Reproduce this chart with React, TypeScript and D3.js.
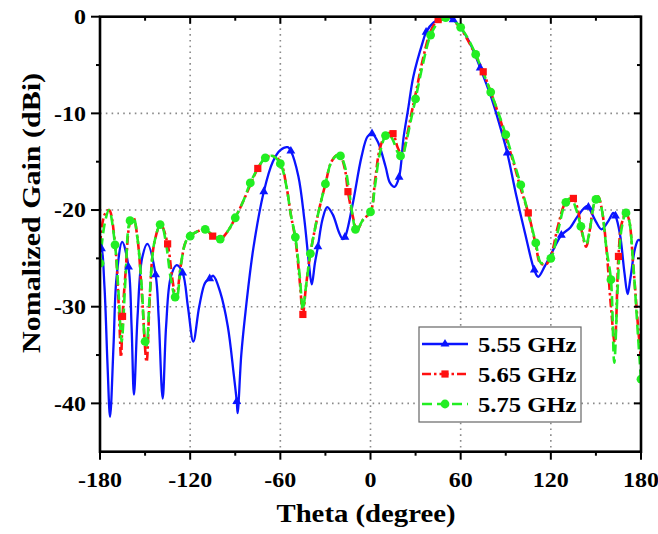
import React from "react";
import * as d3 from "d3";

// ---------- data ----------
const thetaTicks = [-180, -120, -60, 0, 60, 120, 180];
const gainTicks = [0, -10, -20, -30, -40];
const seriesNames = ["5.55 GHz", "5.65 GHz", "5.75 GHz"];

// 5.55 GHz (line points)
const theta555 = [-180, -177, -175, -173.3, -171, -169, -165.2, -159, -157.4, -155, -152, -148.5, -141, -138.3, -136, -133, -129, -121.5, -117.9, -114, -110, -104.6, -100, -95, -91, -88.4, -86, -83.5, -78, -65, -60, -55, -48, -44, -41, -39.1, -37, -32, -28.8, -25, -21, -18.5, -12, -6, -2, 5, 10, 13, 16, 22, 25, 28.5, 35, 42, 50.5, 62, 67, 80, 85, 97, 103, 111.6, 116, 121, 133, 138, 143.8, 150, 153.8, 158, 161.6, 166, 169, 171.1, 173, 176, 178.2, 180];
const gain555 = [-24.4, -28, -36, -41.4, -34, -27, -23.3, -32, -39.1, -31, -25, -23.5, -31, -39.5, -32, -27, -25.7, -30, -33.6, -30, -27.5, -26.8, -28.5, -32, -37, -41.0, -35, -31, -24, -15, -13.8, -13.5, -16.5, -21, -25.5, -27.7, -25.5, -21, -19.7, -20.5, -22.3, -23.0, -19.5, -14.5, -12.4, -13, -15.5, -17.2, -17.6, -12.5, -9.6, -6.2, -2.5, -0.6, 0, -1.6, -3.0, -8.2, -10.7, -18.5, -22.5, -26.9, -25.8, -24.3, -21.8, -20.6, -19.6, -21.2, -22.0, -21.2, -20.3, -22.5, -26.5, -28.7, -27, -24, -23.1, -23.2];
const markerTheta555 = [-179, -161, -143, -125, -107, -89, -71, -53, -35, -17, 1, 19, 37, 55, 73, 91, 109, 127, 145, 163];
const markerGain555 = [-24.0, -25.9, -26.7, -26.5, -27.1, -39.8, -18.1, -13.9, -23.8, -22.8, -12.1, -16.6, -1.6, -0.3, -5.3, -14.1, -26.2, -22.6, -19.7, -20.6];

// 5.65 GHz
const theta565 = [-180, -177, -174, -170, -167.5, -166, -163, -160, -157.8, -155, -152, -149, -147, -144, -139.6, -132, -129.4, -126, -123, -120, -115, -110, -100, -95, -90, -85, -80, -70, -65, -60, -56, -53, -50, -47, -43, -40, -35, -30, -26, -22, -20, -17, -12, -9, -5, 0, 3, 6, 10, 13, 18, 21, 24, 27, 30, 35, 40, 50, 55, 60, 65, 70, 80, 85, 90, 95, 100, 110, 113, 117, 120, 125, 130, 138, 141, 143.5, 146, 148.5, 151.5, 154, 157, 160, 162.5, 167, 170, 172, 175, 178, 180];
const gain565 = [-23.6, -20.5, -20.0, -23.5, -30, -35.2, -26.5, -21.3, -20.8, -23, -29, -35.7, -29.5, -23.5, -21.5, -27, -29.1, -25.5, -23.3, -22.7, -22.2, -22.0, -23.0, -22.2, -20.8, -19.2, -17.4, -14.6, -14.4, -15.0, -17.5, -20.5, -23, -27.5, -28, -24.5, -20.5, -17.3, -15, -14.3, -14.4, -15.8, -20.5, -22.1, -21, -20.2, -17, -13.8, -12.2, -12.0, -13.5, -14.3, -12.5, -10.2, -8.0, -4.3, -1.5, 0, -0.4, -1.2, -2.5, -4.0, -7.8, -10.0, -12.5, -15.0, -17.8, -23.6, -25.5, -25.6, -24.8, -21.5, -19.2, -20, -22.5, -23.8, -22, -19.5, -18.6, -20, -24, -30, -33.7, -21.5, -20.3, -21, -26, -32, -35.5];
const markerTheta565 = [-165, -135, -105, -75, -45, -15, 15, 45, 75, 105, 135, 165];
const markerGain565 = [-31.0, -23.5, -22.7, -15.7, -30.8, -18.1, -12.1, -0.3, -5.7, -20.3, -18.8, -24.8];

// 5.75 GHz
const theta575 = [-177, -174, -167.5, -165.6, -163, -157.8, -155, -152, -149, -147, -144, -139, -136, -133, -129, -126, -123, -115, -105, -95, -85, -75, -65, -56, -53, -47, -45, -43, -35, -26, -22, -17, -14, -12, -9, -5, 3, 6, 12, 15, 18, 21, 24, 27, 35, 45, 51, 55, 65, 75, 85, 95, 105, 113.5, 117, 125, 133.5, 137, 143.4, 146, 148.5, 151.5, 154, 157, 162.2, 164.5, 167, 172, 175, 178];
const gain575 = [-21.5, -20.0, -29, -33.6, -27, -20.8, -23, -28.5, -34.0, -29, -23.5, -21.5, -23.5, -27, -29.1, -25.5, -23.3, -22.2, -22.6, -22.2, -19.2, -15.7, -14.4, -17.5, -20.5, -27, -30.3, -28, -20.5, -15, -14.3, -15.5, -18.3, -20.5, -22.1, -21, -17.5, -14.3, -12.1, -12.8, -14.0, -14.5, -12.8, -10.6, -4.8, -0.6, 0, -0.3, -2.3, -5.8, -9.9, -14.8, -20.4, -25.5, -25.3, -22, -18.8, -20, -23.6, -22, -19.5, -18.6, -20, -24, -35.8, -28, -22, -21, -26, -33];
const markerTheta575 = [-180, -170, -160, -150, -140, -130, -120, -110, -100, -90, -80, -70, -60, -50, -40, -30, -20, -10, 0, 10, 20, 30, 40, 50, 60, 70, 80, 90, 100, 110, 120, 130, 140, 150, 160, 170, 180];
const markerGain575 = [-25.5, -23.6, -21.1, -33.6, -21.5, -29.0, -22.7, -22.0, -23.0, -20.8, -17.2, -14.6, -15.2, -22.8, -24.5, -17.3, -14.4, -22.0, -20.2, -12.3, -14.4, -8.5, -1.9, -0.1, -1.1, -3.9, -7.8, -12.2, -17.4, -23.4, -25.0, -19.2, -21.7, -18.9, -27.2, -20.3, -37.5];

// ---------- layout ----------
const W = 658, H = 534;
const L = 100, R = 641, T = 16.7, B = 451.7;
const FONT = "'Liberation Serif', 'Times New Roman', serif";

const x = d3.scaleLinear().domain([-180, 180]).range([L, R]);
const y = d3.scaleLinear().domain([-45, 0]).range([B, T]);

type P = [number, number];
const zip = (a: number[], b: number[]): P[] => a.map((v, i) => [v, b[i]] as P);
const merge = (a: P[], b: P[]) => [...a, ...b].sort((p, q) => p[0] - q[0]);

const line = d3
  .line<P>()
  .x((d) => x(d[0]))
  .y((d) => y(d[1]))
  .curve(d3.curveCatmullRom.alpha(0.5));

const series = [
  { name: seriesNames[0], color: "#0a14ff", dash: "none", width: 2.3, marker: "tri", pts: merge(zip(theta555, gain555), zip(markerTheta555, markerGain555)), marks: zip(markerTheta555, markerGain555) },
  { name: seriesNames[1], color: "#ff1010", dash: "9,3,2.5,3", width: 2.6, marker: "sq", pts: merge(zip(theta565, gain565), zip(markerTheta565, markerGain565)), marks: zip(markerTheta565, markerGain565) },
  { name: seriesNames[2], color: "#22ee22", dash: "10,5", width: 2.6, marker: "circ", pts: merge(zip(theta575, gain575), zip(markerTheta575, markerGain575)), marks: zip(markerTheta575, markerGain575) },
];

const triPath = d3.symbol(d3.symbolTriangle, 34)() as string;

function Marker({ kind, cx, cy, color }: { kind: string; cx: number; cy: number; color: string }) {
  if (kind === "tri") return <path d={triPath} transform={`translate(${cx},${cy})`} fill={color} />;
  if (kind === "sq") return <rect x={cx - 3.6} y={cy - 3.6} width={7.2} height={7.2} fill={color} />;
  return <circle cx={cx} cy={cy} r={4.4} fill={color} />;
}

function SText({ x: tx, y: ty, sx = 1.09, rot = 0, size, anchor = "middle", children }: any) {
  return (
    <text
      transform={`translate(${tx},${ty}) rotate(${rot}) scale(${sx},1)`}
      textAnchor={anchor}
      fontFamily={FONT}
      fontWeight="bold"
      fontSize={size}
      fill="#000"
    >
      {children}
    </text>
  );
}

export default function App() {
  const xMinor = d3.range(-150, 180, 60);
  const yMinor = d3.range(-5, -45, -10);
  const gridX = thetaTicks.filter((t) => t > -180 && t < 180);
  const gridY = gainTicks.filter((g) => g < 0);
  const legX = 419, legY = 327, legW = 162, legH = 95;
  const rows = [344, 374, 404];

  return (
    <svg width={W} height={H} style={{ position: "absolute", left: 0, top: 0, background: "#fff" }}>
      <defs>
        <clipPath id="plotclip">
          <rect x={L} y={T} width={R - L} height={B - T} />
        </clipPath>
      </defs>
      <rect x={0} y={0} width={W} height={H} fill="#fff" />

      {/* grid */}
      {gridX.map((t) => (
        <line key={"gx" + t} x1={x(t)} x2={x(t)} y1={T} y2={B} stroke="#8a8a8a" strokeWidth={1.6} strokeDasharray="1.6,4.2" />
      ))}
      {gridY.map((g) => (
        <line key={"gy" + g} x1={L} x2={R} y1={y(g)} y2={y(g)} stroke="#8a8a8a" strokeWidth={1.6} strokeDasharray="1.6,4.2" />
      ))}

      {/* curves */}
      <g clipPath="url(#plotclip)">
        {series.map((s) => (
          <path key={s.name} d={line(s.pts) as string} fill="none" stroke={s.color} strokeWidth={s.width} strokeDasharray={s.dash} strokeLinejoin="round" />
        ))}
        {series.map((s) =>
          s.marks.map((m, i) => <Marker key={s.name + i} kind={s.marker} cx={x(m[0])} cy={y(m[1])} color={s.color} />)
        )}
      </g>

      {/* frame */}
      <rect x={L} y={T} width={R - L} height={B - T} fill="none" stroke="#000" strokeWidth={2.6} />

      {/* ticks: bottom/left outward, top/right inward */}
      {thetaTicks.map((t) => (
        <g key={"xt" + t}>
          <line x1={x(t)} x2={x(t)} y1={B} y2={B + 8} stroke="#000" strokeWidth={2} />
          <line x1={x(t)} x2={x(t)} y1={T} y2={T + 7} stroke="#000" strokeWidth={2} />
        </g>
      ))}
      {xMinor.map((t) => (
        <g key={"xm" + t}>
          <line x1={x(t)} x2={x(t)} y1={B} y2={B + 4} stroke="#000" strokeWidth={2} />
          <line x1={x(t)} x2={x(t)} y1={T} y2={T + 4} stroke="#000" strokeWidth={2} />
        </g>
      ))}
      {gainTicks.map((g) => (
        <g key={"yt" + g}>
          <line x1={L - 9} x2={L} y1={y(g)} y2={y(g)} stroke="#000" strokeWidth={2} />
          <line x1={R - 7} x2={R} y1={y(g)} y2={y(g)} stroke="#000" strokeWidth={2} />
        </g>
      ))}
      {yMinor.map((g) => (
        <g key={"ym" + g}>
          <line x1={L - 4} x2={L} y1={y(g)} y2={y(g)} stroke="#000" strokeWidth={2} />
          <line x1={R - 4} x2={R} y1={y(g)} y2={y(g)} stroke="#000" strokeWidth={2} />
        </g>
      ))}

      {/* tick labels */}
      {thetaTicks.map((t) => (
        <SText key={"xl" + t} x={x(t)} y={486.5} size={22}>
          {String(t)}
        </SText>
      ))}
      {gainTicks.map((g) => (
        <SText key={"yl" + g} x={86} y={y(g) + 7.3} size={22} anchor="end">
          {String(g)}
        </SText>
      ))}

      {/* axis titles */}
      <SText x={366} y={522} size={25} sx={1.15}>
        Theta (degree)
      </SText>
      <SText x={40} y={213} size={25} sx={1.2} rot={-90}>
        Nomalized Gain (dBi)
      </SText>

      {/* legend */}
      <rect x={legX} y={legY} width={legW} height={legH} fill="#fff" stroke="#666" strokeWidth={1.2} />
      {series.map((s, i) => (
        <g key={"lg" + i}>
          <line x1={422} x2={468} y1={rows[i]} y2={rows[i]} stroke={s.color} strokeWidth={s.width} strokeDasharray={s.dash} />
          <Marker kind={s.marker} cx={445} cy={rows[i]} color={s.color} />
          <SText x={478} y={rows[i] + 8} size={22} sx={1.12} anchor="start">
            {s.name}
          </SText>
        </g>
      ))}
    </svg>
  );
}
